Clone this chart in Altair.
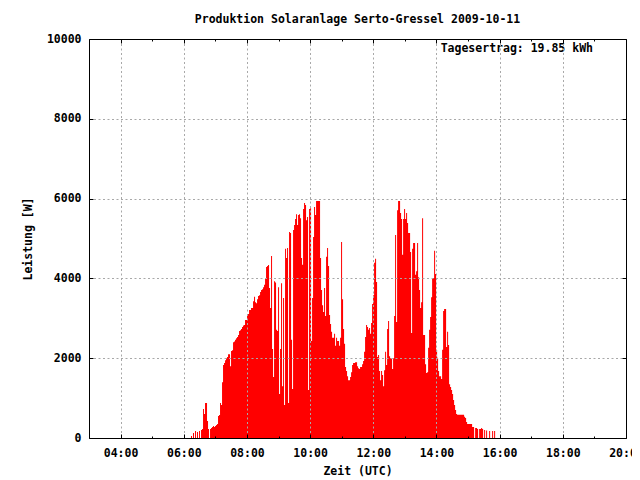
import altair as alt
import pandas as pd

# ---- texts ----
title_text = "Produktion Solaranlage Serto-Gressel 2009-10-11"
x_title = "Zeit (UTC)"
y_title = "Leistung [W]"
annotation = "Tagesertrag: 19.85 kWh"

# ---- data: power readings (W), one every 114 s starting 06:10 UTC ----
start_hour = 6
start_minute = 10
step_seconds = 114

power_w = [
    0, 0, 50, 0, 125, 0, 175, 0, 150, 0,
    175, 0, 200, 225, 725, 600, 875, 875, 425, 225,
    0, 225, 250, 275, 300, 275, 300, 325, 350, 550,
    575, 875, 825, 1400, 1830, 1880, 1950, 2000, 2030, 2100,
    2100, 1800, 2180, 2200, 2400, 2420, 2460, 2500, 2530, 2580,
    2680, 2700, 2730, 2780, 2820, 2830, 2960, 2960, 3110, 3110,
    3210, 3210, 3260, 3260, 3430, 3540, 3400, 3380, 3480, 3560,
    3580, 3660, 3710, 3730, 3780, 3840, 3985, 4285, 4310, 4335,
    3760, 3260, 4560, 2230, 1530, 3930, 3900, 2710, 2680, 3780,
    1100, 2230, 3880, 1300, 3510, 830, 4740, 4510, 4760, 880,
    5160, 5140, 2460, 1230, 5210, 5340, 5490, 5610, 5340, 5590,
    5610, 5510, 4510, 4340, 5740, 5890, 5840, 5460, 5540, 1200,
    5740, 5760, 2430, 3510, 5040, 5790, 5590, 5940, 5940, 5940,
    5940, 4510, 3710, 3330, 3160, 3760, 3060, 4540, 4760, 4310,
    3080, 2860, 2660, 2510, 2510, 2610, 2310, 2510, 2430, 2430,
    2310, 2510, 4910, 3480, 2730, 2360, 1780, 1680, 1550, 1450,
    1450, 1530, 1650, 1830, 1880, 1880, 1900, 1900, 1800, 1750,
    1730, 1780, 1780, 1850, 1930, 2160, 2530, 2830, 2780, 2710,
    2760, 2610, 2880, 3360, 3580, 4390, 4490, 3910, 2030, 2080,
    1680, 1450, 1680, 1580, 1300, 1700, 2160, 1830, 2730, 2930,
    2050, 2000, 2000, 1730, 2000, 3060, 5090, 2910, 5710, 5940,
    5940, 5640, 5490, 4590, 5490, 5740, 5490, 5640, 5390, 5140,
    5140, 4660, 2630, 4740, 4890, 4890, 4090, 4180, 4890, 4030,
    3710, 3260, 3400, 5510, 2580, 2580, 1850, 1630, 1650, 2260,
    2710, 3030, 3530, 4010, 4010, 4690, 4110, 2210, 2010, 1680,
    1550, 1550, 1480, 2210, 3180, 3230, 3230, 2280, 2660, 2330,
    1350, 1280, 1200, 1100, 950, 830, 700, 600, 580, 580,
    580, 580, 580, 580, 580, 530, 500, 400, 350, 350,
    350, 350, 350, 275, 275, 0, 250, 250, 225, 0,
    225, 225, 250, 225, 0, 200, 0, 190, 0, 0,
    175, 0, 0, 175, 0, 175, 0,
]

# ---- axis ticks ----
x_domain = [3, 20]
x_ticks_major = [4, 6, 8, 10, 12, 14, 16, 18, 20]
x_ticks_all = list(range(3, 21))
y_domain = [0, 10000]
y_ticks = [0, 2000, 4000, 6000, 8000, 10000]

hours = [start_hour + start_minute / 60 + i * step_seconds / 3600 for i in range(len(power_w))]
df = pd.DataFrame({"h": hours, "w": power_w})

FONT = "DejaVu Sans Mono"
FS = 11.5
W, H = 537, 399
GRID = "#a8a8a8"

xs = alt.Scale(domain=x_domain, nice=False, zero=False)
ys = alt.Scale(domain=y_domain, nice=False, zero=True)

label_expr = "(datum.value < 10 ? '0' : '') + datum.value + ':00'"

area = alt.Chart(df).mark_area(interpolate="step-after", color="#ff0000", opacity=1).encode(
    x=alt.X("h:Q", scale=xs, axis=alt.Axis(
        orient="bottom", values=x_ticks_major, labelExpr=label_expr, title=x_title,
        ticks=False, tickSize=0, domain=False, grid=True, gridColor=GRID, gridDash=[2, 2.5],
        gridOpacity={"condition": {"test": "datum.value < 20", "value": 1}, "value": 0},
        labelPadding=9, labelFlush=False, titlePadding=7, zindex=1)),
    y=alt.Y("w:Q", scale=ys, axis=alt.Axis(
        orient="left", values=y_ticks, format="d", title=y_title,
        ticks=False, tickSize=0, domain=False, grid=True, gridColor=GRID, gridDash=[2, 2.5],
        gridOpacity={"condition": {"test": "datum.value > 0 && datum.value < 10000", "value": 1}, "value": 0},
        labelPadding=8, titlePadding=13, zindex=1)),
)

tick_size_x = {"condition": {"test": "datum.value % 2 == 0", "value": 4}, "value": 2}

ticks_a = alt.Chart(df).mark_point(opacity=0).encode(
    x=alt.X("h:Q", scale=xs, axis=alt.Axis(
        orient="top", offset=-H, values=x_ticks_all, labels=False, title="",
        grid=False, domain=True, domainColor="black", tickColor="black",
        tickSize=tick_size_x, zindex=1)),
    y=alt.Y("w:Q", scale=ys, axis=alt.Axis(
        orient="right", offset=-W, values=y_ticks, labels=False, title="",
        grid=False, domain=True, domainColor="black", tickColor="black",
        tickSize=4, zindex=1)),
)

ticks_b = alt.Chart(df).mark_point(opacity=0).encode(
    x=alt.X("h:Q", scale=xs, axis=alt.Axis(
        orient="bottom", offset=-H, values=x_ticks_all, labels=False, title="",
        grid=False, domain=True, domainColor="black", tickColor="black",
        tickSize=tick_size_x, zindex=1)),
    y=alt.Y("w:Q", scale=ys, axis=alt.Axis(
        orient="left", offset=-W, values=y_ticks, labels=False, title="",
        grid=False, domain=True, domainColor="black", tickColor="black",
        tickSize=4, zindex=1)),
)

note = alt.Chart(alt.Data(values=[{"t": annotation}])).mark_text(
    align="right", baseline="middle", font=FONT, fontSize=FS, fontWeight="bold", color="black"
).encode(text="t:N", x=alt.value(504), y=alt.value(10))

chart = alt.layer(area, ticks_a, ticks_b, note).resolve_axis(
    x="independent", y="independent"
).properties(
    width=W, height=H,
    padding={"left": 81, "top": 31, "right": 6, "bottom": 42},
    autosize=alt.AutoSizeParams(type="none"),
    title=alt.TitleParams(title_text, font=FONT, fontSize=FS, fontWeight="bold",
                          color="black", anchor="middle", frame="group", offset=8),
).configure_view(stroke="transparent").configure_axis(
    labelFont=FONT, labelFontSize=FS, labelFontWeight="bold", labelColor="black",
    titleFont=FONT, titleFontSize=FS, titleFontWeight="bold", titleColor="black",
)

chart.save("out.html", embed_options={"renderer": "svg", "actions": False})
